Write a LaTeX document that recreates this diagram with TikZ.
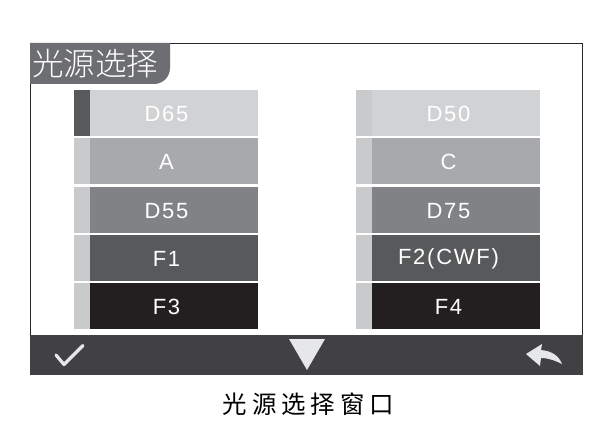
\documentclass[tikz,border=0pt]{standalone}
\usepackage{fontspec}
\setmainfont{Liberation Sans}
\newfontfamily\cjktitle{Noto Sans CJK SC Light}
\newfontfamily\cjkcap[LetterSpace=20]{Noto Sans CJK SC}
\definecolor{rowa}{HTML}{D1D2D4}
\definecolor{rowb}{HTML}{A7A9AC}
\definecolor{rowc}{HTML}{808285}
\definecolor{rowd}{HTML}{58595B}
\definecolor{rowe}{HTML}{231F20}
\definecolor{stripon}{HTML}{58595B}
\definecolor{stripoff}{HTML}{C9CACB}
\definecolor{barc}{HTML}{414042}
\definecolor{tabc}{HTML}{6D6E71}
\definecolor{iconc}{HTML}{E6E7E8}
\tikzset{
  x=1pt,y=-1pt,
  rowlabel/.style={font=\fontsize{22}{22}\selectfont\addfontfeatures{LetterSpace=8},text=white,anchor=center,inner sep=0pt},
  pics/rowitem/.style n args={4}{code={
    \fill[#3] (0,0) rectangle (16,46);
    \fill[#2] (16,0) rectangle (184,46);
    \node[rowlabel] (#4) at (92.5,24) {#1};
  }}
}
\begin{document}
\begin{tikzpicture}
\useasboundingbox (0,0) rectangle (616,433);
\fill[white] (0,0) rectangle (616,433);
\draw[line width=1.1pt,black!85] (30.5,375) -- (30.5,43.5) -- (582.5,43.5) -- (582.5,375);
\fill[tabc] (30,43) -- (170,43) -- (170,68) arc[start angle=0,end angle=90,radius=16] -- (30,84) -- cycle;
\node[font=\cjktitle\fontsize{31.5}{31.5}\selectfont,text=white,anchor=west,inner sep=0pt] (title) at (32,64) {光源选择};
\pic at (74,90) {rowitem={D65}{rowa}{stripon}{la}};
\pic at (74,138) {rowitem={A}{rowb}{stripoff}{lb}};
\pic at (74,187) {rowitem={D55}{rowc}{stripoff}{lc}};
\pic at (74,235) {rowitem={F1}{rowd}{stripoff}{ld}};
\pic at (74,283) {rowitem={F3}{rowe}{stripoff}{le}};
\pic at (356,90) {rowitem={D50}{rowa}{stripoff}{ra}};
\pic at (356,138) {rowitem={C}{rowb}{stripoff}{rb}};
\pic at (356,187) {rowitem={D75}{rowc}{stripoff}{rc}};
\pic at (356,235) {rowitem={F2(CWF)}{rowd}{stripoff}{rd}};
\pic at (356,283) {rowitem={F4}{rowe}{stripoff}{re}};
\fill[barc] (30,335) rectangle (583,375);
\draw[iconc,line width=3.2pt,line cap=round,line join=round] (56,355) -- (64,364.5) -- (83,345.5);
\fill[iconc] (289,339) -- (325,339) -- (307,370) -- cycle;
\fill[iconc] (526,354) -- (542,344) -- (541,350) .. controls (552,351) and (559,356) .. (562,364) .. controls (556,361) and (549,358) .. (541,358) -- (540,366) -- cycle;
\node[font=\cjkcap\fontsize{24.5}{24.5}\selectfont,text=black,anchor=center,inner sep=0pt] (caption) at (308.5,404) {光源选择窗口};
\end{tikzpicture}
\end{document}
